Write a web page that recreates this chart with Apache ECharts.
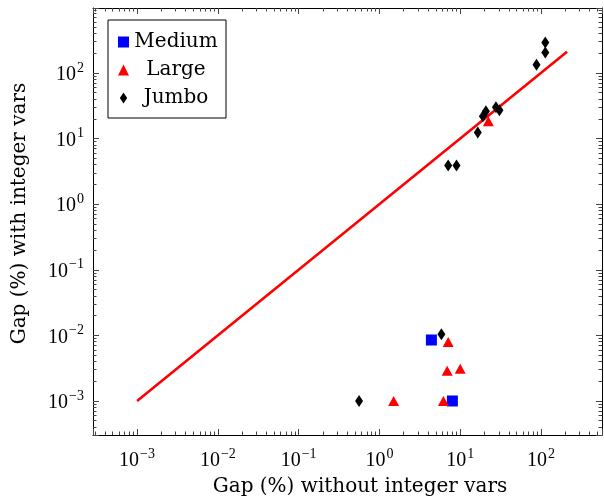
<!DOCTYPE html>
<html>
<head>
<meta charset="utf-8">
<script src="https://cdn.jsdelivr.net/npm/echarts@6/dist/echarts.min.js"></script>
<style>
  html, body { margin: 0; padding: 0; background: #fff; }
  #chart { width: 604px; height: 504px; }
</style>
</head>
<body>
<div id="chart"></div>
<script>
// values (log-log scatter)
const mediumX = [4.4, 8.0];
const mediumY = [0.0085, 0.001];

const largeX = [1.5, 6.2, 7.1, 6.9, 10.0, 22.3];
const largeY = [0.001, 0.001, 0.0079, 0.0029, 0.0031, 18.4];

const jumboX = [0.56, 5.85, 7.1, 9.0, 16.5, 19.1, 20.8, 27.7, 30.6, 88, 113, 113];
const jumboY = [0.001, 0.0104, 3.9, 3.9, 12.4, 21.9, 26, 30.1, 27.1, 133, 205, 290];

const diagX = [0.001, 210];
const diagY = [0.001, 210];

const xRange = [0.000285, 569];
const yRange = [0.000303, 977];

const zip = (xs, ys) => xs.map((x, i) => [x, ys[i]]);

const serif = 'Liberation Serif';
const titleFont = 'DejaVu Serif';
const diamondPath = 'path://M0,-6L4,0L0,6L-4,0Z';

function powLabel(v) {
  const e = Math.round(Math.log10(v));
  const s = e < 0 ? '\u2212' + (-e) : String(e);
  return '{b|10}{s|' + s + '}';
}
const labelRich = {
  b: { fontFamily: serif, fontSize: 20, color: '#000', lineHeight: 24, verticalAlign: 'bottom' },
  s: { fontFamily: serif, fontSize: 14, color: '#000', verticalAlign: 'top', padding: [0, 0, 0, 1] }
};

const tickStyle = { color: '#444', width: 1 };

function logAxis(range, pos, main) {
  return {
    type: 'log',
    logBase: 10,
    position: pos,
    min: range[0],
    max: range[1],
    axisLine: { show: true, onZero: false, lineStyle: { color: '#000', width: 1 } },
    axisTick: { show: true, inside: true, length: 6, lineStyle: tickStyle },
    minorTick: { show: true, splitNumber: 9, length: 3.5, lineStyle: tickStyle },
    splitLine: { show: false },
    minorSplitLine: { show: false },
    axisLabel: {
      show: main,
      showMinLabel: false,
      showMaxLabel: false,
      formatter: powLabel,
      rich: labelRich
    }
  };
}

const chart = echarts.init(document.getElementById('chart'), null, { renderer: 'canvas' });

const xMain = logAxis(xRange, 'bottom', true);
xMain.axisLabel.margin = 12;
xMain.name = 'Gap (%) without integer vars';
xMain.nameLocation = 'middle';
xMain.nameGap = 42;
xMain.nameTextStyle = { fontFamily: titleFont, fontSize: 20, color: '#000', padding: [0, 0, 0, 25] };

const yMain = logAxis(yRange, 'left', true);
yMain.axisLabel.margin = 9;
yMain.name = 'Gap (%) with integer vars';
yMain.nameLocation = 'middle';
yMain.nameGap = 63;
yMain.nameTextStyle = { fontFamily: titleFont, fontSize: 20, color: '#000', padding: [0, 0, 0, 16] };

const legendRich = {
  c: { fontFamily: titleFont, fontSize: 20, lineHeight: 20, color: '#000', width: 84, align: 'center' }
};

chart.setOption({
  animation: false,
  backgroundColor: '#fff',
  grid: { left: 93, right: 2, top: 8, bottom: 69, containLabel: false, outerBoundsMode: 'none' },
  xAxis: [xMain, logAxis(xRange, 'top', false)],
  yAxis: [yMain, logAxis(yRange, 'right', false)],
  legend: {
    orient: 'vertical',
    left: 108,
    top: 20,
    padding: [12, 8, 10, 10],
    itemGap: 8,
    itemWidth: 11,
    itemHeight: 11,
    itemTextGap: 4,
    backgroundColor: '#fff',
    borderColor: '#000',
    borderWidth: 1,
    borderRadius: 0,
    formatter: name => '{c|' + name + '}',
    textStyle: { rich: legendRich },
    data: [
      { name: 'Medium', icon: 'rect' },
      { name: 'Large', icon: 'triangle' },
      { name: 'Jumbo', icon: diamondPath }
    ]
  },
  series: [
    {
      name: 'y = x',
      type: 'line',
      data: zip(diagX, diagY),
      showSymbol: false,
      symbol: 'none',
      lineStyle: { color: '#ff0000', width: 2.6 },
      z: 1
    },
    {
      name: 'Medium',
      type: 'scatter',
      data: zip(mediumX, mediumY),
      symbol: 'rect',
      symbolSize: 11,
      itemStyle: { color: '#0000ff', opacity: 1 },
      z: 2
    },
    {
      name: 'Large',
      type: 'scatter',
      data: zip(largeX, largeY),
      symbol: 'triangle',
      symbolSize: [11, 10],
      itemStyle: { color: '#ff0000', opacity: 1 },
      z: 3
    },
    {
      name: 'Jumbo',
      type: 'scatter',
      data: zip(jumboX, jumboY),
      symbol: 'diamond',
      symbolSize: [8, 12],
      itemStyle: { color: '#000000', opacity: 1 },
      z: 4
    }
  ]
});
</script>
</body>
</html>
